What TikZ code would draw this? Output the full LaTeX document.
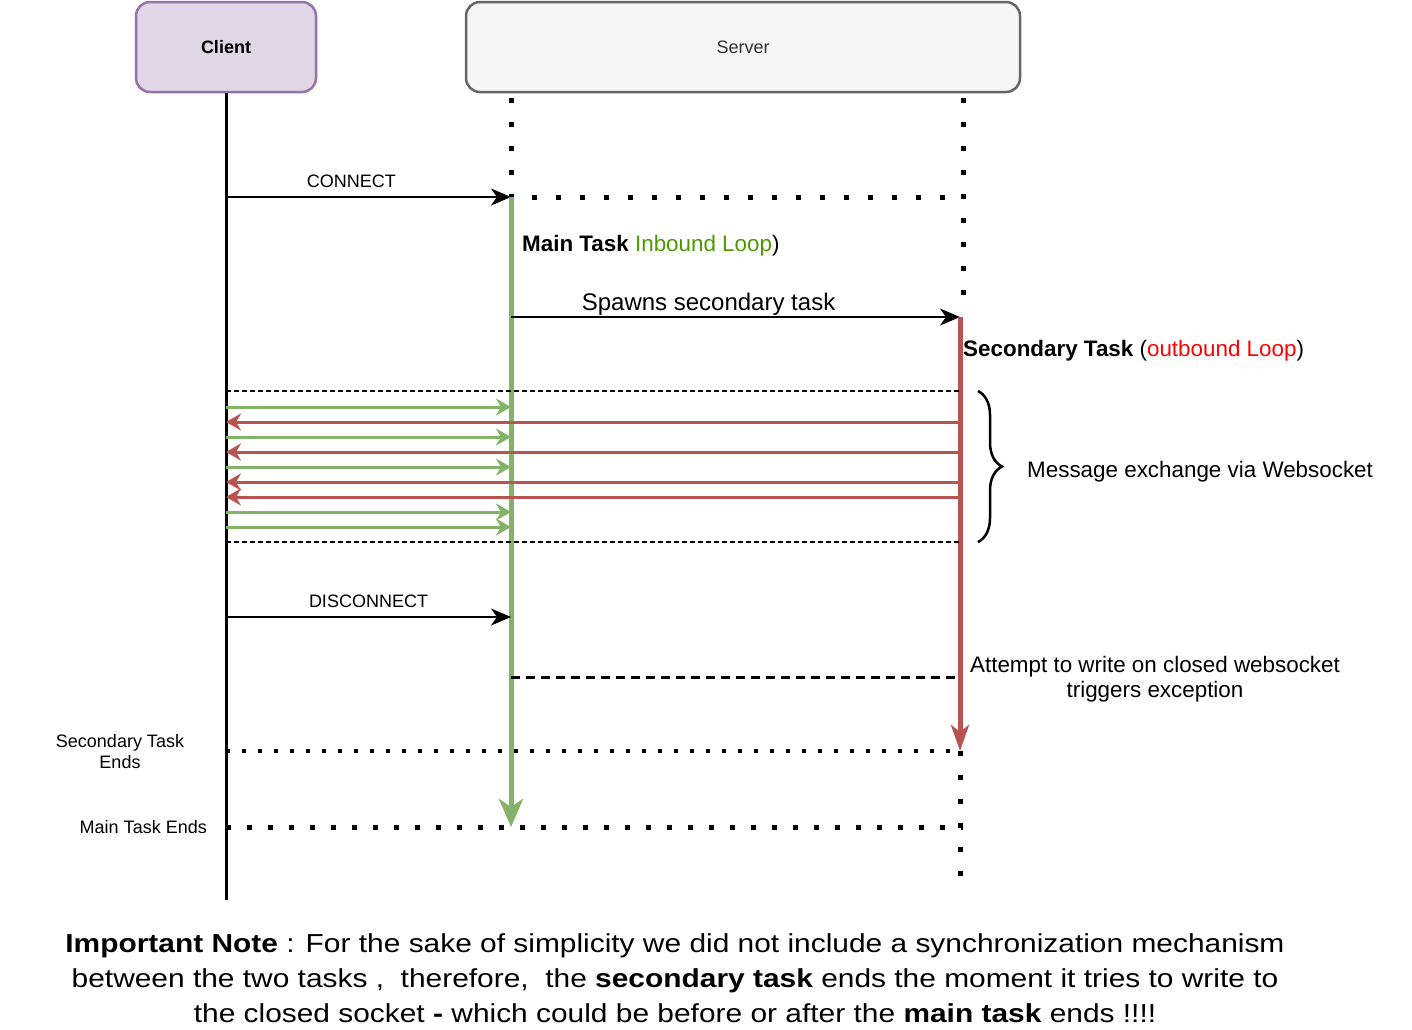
\documentclass[tikz,border=0pt]{standalone}
\usepackage{fontspec}
\setmainfont{Liberation Sans}
\newfontfamily\notefont[FakeStretch=1.15]{Liberation Sans}
\usetikzlibrary{arrows.meta, positioning, decorations.pathreplacing}
\definecolor{clientfill}{HTML}{E1D5E7}
\definecolor{clientdraw}{HTML}{9673A6}
\definecolor{serverfill}{HTML}{F5F5F5}
\definecolor{serverdraw}{HTML}{666666}
\definecolor{maingreen}{HTML}{82B366}
\definecolor{secred}{HTML}{B85450}
\definecolor{loopgreen}{HTML}{4D9900}
\definecolor{loopred}{HTML}{FF0000}
\tikzset{
  lifebox/.style={draw, rounded corners=14pt, line width=2.5pt, minimum height=90pt, font=\fontsize{18}{21}\selectfont},
  msg/.style={line width=2.5pt, -{Stealth[length=20pt, width=17pt, inset=6pt]}},
  greenmsg/.style={maingreen, line width=3pt, -{Stealth[length=15pt, width=17pt, inset=5pt]}},
  redmsg/.style={secred, line width=3pt, -{Stealth[length=15pt, width=17pt, inset=5pt]}},
  sqdots/.style={line width=5pt, dash pattern=on 5pt off 19pt},
  thindash/.style={line width=1.5pt, dash pattern=on 5pt off 3pt},
  lbl/.style={font=\fontsize{18}{21}\selectfont, inner sep=0pt},
  biglbl/.style={font=\fontsize{22.4}{25}\selectfont, inner sep=0pt},
}
\begin{document}
\begin{tikzpicture}[x=1pt, y=-1pt]
  \useasboundingbox (0,0) rectangle (1412,1029);
  % Participants
  \node[lifebox, fill=clientfill, draw=clientdraw, minimum width=180pt] (client) at (226,47) {\bfseries Client};
  \node[lifebox, fill=serverfill, draw=serverdraw, minimum width=554pt, text=black!80] (server) at (743,47) {Server};
  % Lifeline points
  \coordinate (clientend) at (226,900);
  \coordinate (mtop) at (511,98);
  \coordinate (mstart) at (511,197);
  \coordinate (mend) at (511,827);
  \coordinate (stop) at (963,98);
  \coordinate (scorner) at (963,197);
  \coordinate (sdotend) at (963,305);
  \coordinate (sstart) at (960,317);
  \coordinate (send) at (960,751);
  \coordinate (sdotlow) at (960,880);
  % Client lifeline
  \draw[line width=3pt] (client.south) -- (clientend);
  % Server dotted lifelines
  \draw[sqdots] (mtop) -- (mstart) -- (scorner);
  \draw[sqdots] (stop) -- (sdotend);
  \draw[sqdots] (send) -- (sdotlow);
  % Connect
  \draw[msg] (226,197) -- node[lbl, pos=0.44, above=8pt] {CONNECT} (mstart);
  % Main task
  \draw[maingreen, line width=5pt, -{Stealth[length=28pt, width=24pt, inset=8pt]}] (mstart) -- (mend);
  \node[biglbl, anchor=base west] (mainlbl) at (522,251) {\bfseries Main Task \mdseries\textcolor{loopgreen}{Inbound Loop})};
  % Spawn secondary task
  \draw[msg] (511,317) -- node[font=\fontsize{24}{27}\selectfont, inner sep=0pt, pos=0.44, above=0pt] {Spawns secondary task} (sstart);
  \draw[secred, line width=5pt, -{Stealth[length=26pt, width=18pt, inset=7pt]}] (sstart) -- (send);
  \node[biglbl, anchor=base west] (seclbl) at (963,356) {\bfseries Secondary Task \mdseries(\textcolor{loopred}{outbound Loop})};
  % Message exchange
  \draw[thindash] (226,391) -- (960,391);
  \draw[thindash] (226,542) -- (960,542);
  \foreach \y in {407,437,467,512,527}
    \draw[greenmsg] (226,\y) -- (511,\y);
  \foreach \y in {422,452,482,497}
    \draw[redmsg] (960,\y) -- (226,\y);
  \draw[line width=2.5pt, decorate, decoration={brace, amplitude=24pt}] (978,391) -- (978,542);
  \node[biglbl, anchor=base west] (msglbl) at (1027,477) {Message exchange via Websocket};
  % Disconnect
  \draw[msg] (226,617) -- node[lbl, pos=0.5, above=8pt] {DISCONNECT} (511,617);
  \draw[line width=3pt, dash pattern=on 9pt off 6pt] (511,677) -- (955,677);
  \node[biglbl, align=center] (errlbl) at (1155,679) {Attempt to write on closed websocket\\triggers exception};
  % Task ends
  \draw[line width=4pt, dash pattern=on 4pt off 12pt] (226,751) -- (send);
  \node[lbl, align=center] (secend) at (120,752) {Secondary Task\\Ends};
  \draw[line width=5pt, dash pattern=on 5pt off 16pt] (226,827) -- (963,827);
  \node[lbl, anchor=east] (mainend) at (207,827) {Main Task Ends};
  % Note
  \node[inner sep=0pt, align=center, font=\notefont\fontsize{26}{35}\selectfont] (note) at (675,978)
    {\textbf{Important Note} : For the sake of simplicity we did not include a synchronization mechanism\\
     between the two tasks ,\ \ therefore,\ \ the \textbf{secondary task} ends the moment it tries to write to\\
     the closed socket \textbf{-} which could be before or after the \textbf{main task} ends !!!!};
\end{tikzpicture}
\end{document}
